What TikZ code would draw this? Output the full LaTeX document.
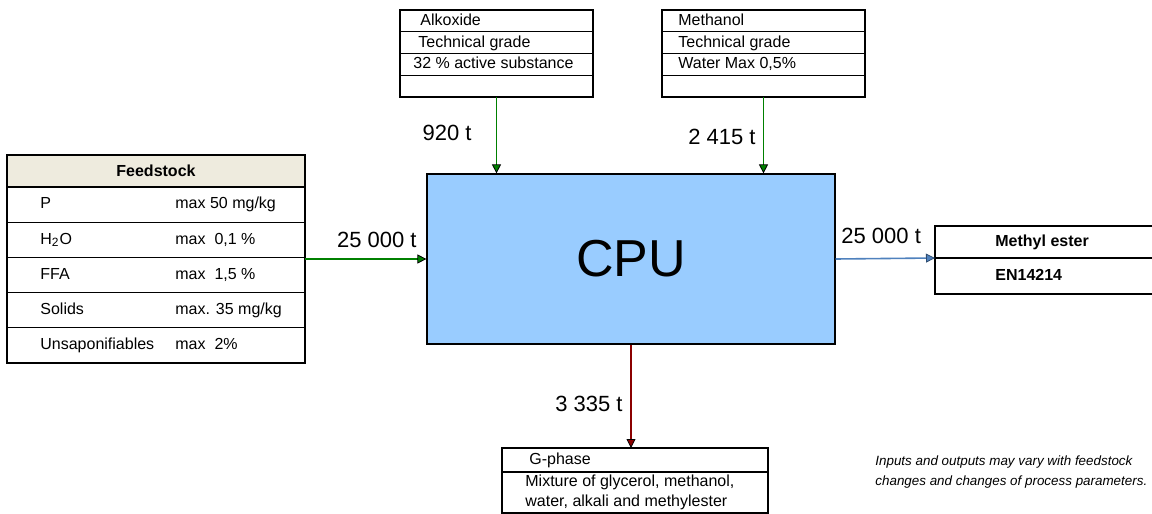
\documentclass[tikz,border=0pt]{standalone}
\usepackage{fontspec}
\setmainfont{Liberation Sans}
\usetikzlibrary{positioning,calc,fit,arrows.meta}
\definecolor{CPUBlue}{RGB}{153,204,255}
\definecolor{HeadBeige}{RGB}{238,235,222}
\definecolor{FlowGreen}{RGB}{0,128,0}
\definecolor{FlowBlue}{RGB}{79,129,189}
\definecolor{FlowRed}{RGB}{139,0,0}

\begin{document}
\begin{tikzpicture}[x=0.5pt, y=-0.5pt,
                % box styles
                cellbox/.style={draw=black, line width=0.6pt, anchor=north west, inner sep=0pt, outer sep=0pt, minimum width=#1},
                celltext/.style={inner sep=0pt, anchor=west, text height=6pt, text depth=1.7pt, font=\fontsize{8}{10}\selectfont},
                headtext/.style={inner sep=0pt, font=\fontsize{8}{10}\selectfont\bfseries},
                cpubox/.style={draw=black, line width=0.6pt, fill=CPUBlue, minimum width=204pt, minimum height=85pt, font=\fontsize{26}{30}\selectfont},
                % flow styles
                greenflow/.style={draw=FlowGreen, line width=0.8pt, -{Triangle[length=4.5pt, width=4.5pt, color=black, fill=FlowGreen, line width=0.4pt]}},
                blueflow/.style={draw=FlowBlue, line width=0.8pt, -{Triangle[length=4.5pt, width=4.5pt, color=FlowBlue!60!black, fill=FlowBlue, line width=0.4pt]}},
                redflow/.style={draw=FlowRed, line width=0.8pt, -{Triangle[length=4.5pt, width=4.5pt, color=black, fill=FlowRed, line width=0.4pt]}},
                flowlabel/.style={inner sep=0pt, font=\fontsize{11}{13}\selectfont},
                notetext/.style={inner sep=0pt, align=left, font=\fontsize{6.7}{10}\selectfont\itshape}
            ]
                \useasboundingbox (0,0) rectangle (1152,514);

                % --- CPU ---
                \node[cpubox] (cpu) at (631,259) {CPU};

                % --- FEEDSTOCK ---
                \node[cellbox=149pt, minimum height=16pt, fill=HeadBeige] (fs0) at (7,155) {};
                \node[headtext] at (fs0) {Feedstock};
                \node[cellbox=149pt, minimum height=17.6pt] (fs1) at (fs0.south west) {};
                \node[cellbox=149pt, minimum height=17.6pt] (fs2) at (fs1.south west) {};
                \node[cellbox=149pt, minimum height=17.6pt] (fs3) at (fs2.south west) {};
                \node[cellbox=149pt, minimum height=17.6pt] (fs4) at (fs3.south west) {};
                \node[cellbox=149pt, minimum height=17.6pt] (fs5) at (fs4.south west) {};
                \node[fit=(fs0)(fs5), inner sep=0pt, outer sep=0pt] (feed) {};

                \node[celltext, right=16.5pt of fs1.west] {P};
                \node[celltext, right=84pt of fs1.west] {max 50 mg/kg};
                \node[celltext, right=16.5pt of fs2.west] {H\textsubscript{2}O};
                \node[celltext, right=84pt of fs2.west] {max\ \ 0,1 \%};
                \node[celltext, right=16.5pt of fs3.west] {FFA};
                \node[celltext, right=84pt of fs3.west] {max\ \ 1,5 \%};
                \node[celltext, right=16.5pt of fs4.west] {Solids};
                \node[celltext, right=84pt of fs4.west] {max. 35 mg/kg};
                \node[celltext, right=16.5pt of fs5.west] {Unsaponifiables};
                \node[celltext, right=84pt of fs5.west] {max\ \ 2\%};

                % --- ALKOXIDE ---
                \node[cellbox=96.5pt, minimum height=10.9pt] (alk1) at (400,10) {};
                \node[cellbox=96.5pt, minimum height=10.9pt] (alk2) at (alk1.south west) {};
                \node[cellbox=96.5pt, minimum height=10.9pt] (alk3) at (alk2.south west) {};
                \node[cellbox=96.5pt, minimum height=10.9pt] (alk4) at (alk3.south west) {};
                \draw[line width=1.2pt] (alk4.south west) -- (alk4.south east);
                \node[celltext, right=10pt of alk1.west] {Alkoxide};
                \node[celltext, right=9pt of alk2.west] {Technical grade};
                \node[celltext, right=6.5pt of alk3.west] {32 \% active substance};

                % --- METHANOL ---
                \node[cellbox=101.5pt, minimum height=10.9pt] (meth1) at (662,10) {};
                \node[cellbox=101.5pt, minimum height=10.9pt] (meth2) at (meth1.south west) {};
                \node[cellbox=101.5pt, minimum height=10.9pt] (meth3) at (meth2.south west) {};
                \node[cellbox=101.5pt, minimum height=10.9pt] (meth4) at (meth3.south west) {};
                \draw[line width=1.2pt] (meth4.south west) -- (meth4.south east);
                \node[celltext, right=8pt of meth1.west] {Methanol};
                \node[celltext, right=8pt of meth2.west] {Technical grade};
                \node[celltext, right=8pt of meth3.west] {Water Max 0,5\%};

                % --- METHYL ESTER ---
                \node[cellbox=110pt, minimum height=16pt, line width=1pt] (me1) at (935,226) {};
                \node[cellbox=110pt, minimum height=18pt, line width=1pt] (me2) at (me1.south west) {};
                \node[celltext, font=\fontsize{8}{10}\selectfont\bfseries, right=30pt of me1.west] {Methyl ester};
                \node[celltext, font=\fontsize{8}{10}\selectfont\bfseries, right=30pt of me2.west] {EN14214};

                % --- G-PHASE ---
                \node[cellbox=133pt, minimum height=12pt] (gp1) at (502,448) {};
                \node[cellbox=133pt, minimum height=20.5pt] (gp2) at (gp1.south west) {};
                \node[celltext, right=13.5pt of gp1.west] {G-phase};
                \node[inner sep=0pt, anchor=west, align=left, font=\fontsize{8}{10}\selectfont, right=11.5pt of gp2.west] {Mixture of glycerol, methanol,\\water, alkali and methylester};

                % --- FLOWS ---
                \draw[greenflow] (alk4.south) -- (alk4.south |- cpu.north);
                \draw[greenflow] (meth4.south) -- (meth4.south |- cpu.north);
                \draw[greenflow] (feed.east) -- (cpu.west);
                \draw[blueflow] (cpu.east) -- (me1.south west);
                \draw[redflow] (cpu.south) -- (cpu.south |- gp1.north);

                % --- LABELS ---
                \node[flowlabel, anchor=east] at (472,133) {920 t};
                \node[flowlabel, anchor=east] at (756,137) {2 415 t};
                \node[flowlabel, anchor=east] at (417,240) {25 000 t};
                \node[flowlabel, anchor=west] at (841,236) {25 000 t};
                \node[flowlabel, anchor=east] at (623,404) {3 335 t};

                % note
                \node[notetext, anchor=west] at (875,472) {Inputs and outputs may vary with feedstock\\changes and changes of process parameters.};

            \end{tikzpicture}
\end{document}
